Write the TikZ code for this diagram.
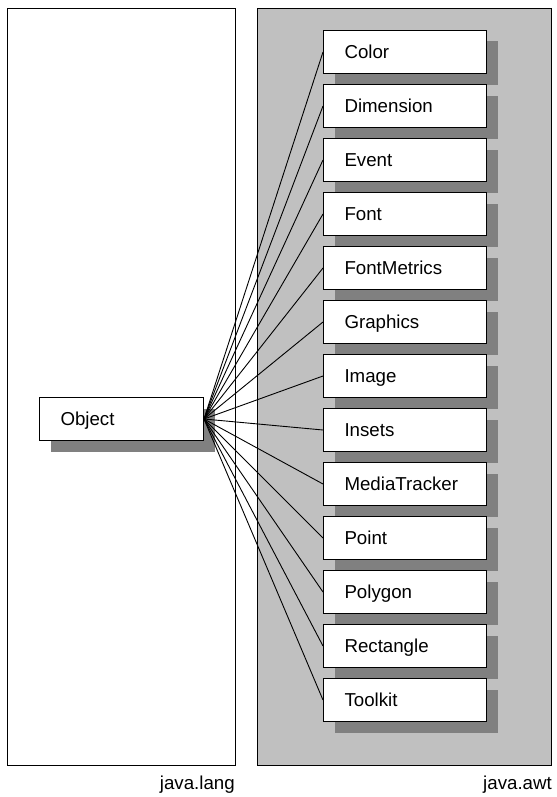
\documentclass[tikz,border=0pt]{standalone}
\usepackage{fontspec}
\setmainfont{Liberation Sans}
\usetikzlibrary{shadows}
\definecolor{panelgray}{RGB}{192,192,192}
\definecolor{shadowgray}{RGB}{128,128,128}
\pgfdeclarelayer{panels}
\pgfsetlayers{panels,main}
\newcommand{\labelfont}{\fontsize{18.7bp}{22bp}\selectfont}
\tikzset{
  classbox/.style={draw=black, line width=1bp, fill=white, rectangle,
    minimum width=163bp, minimum height=43bp, text width=121bp,
    inner xsep=21bp, inner ysep=0pt, align=left, anchor=north west,
    text height=13.4bp, text depth=0pt, font=\labelfont,
    drop shadow={shadow xshift=11bp, shadow yshift=-11bp,
      fill=shadowgray, opacity=1, draw=none}},
  wire/.style={draw=black, line width=0.9bp},
  panel/.style={draw=black, line width=1bp},
  pkglabel/.style={font=\labelfont, inner sep=0pt, anchor=base east},
}
\begin{document}
\begin{tikzpicture}[x=1bp, y=-1bp]
  \useasboundingbox (0,0) rectangle (557,797);

  % package panels
  \begin{pgfonlayer}{panels}
    \draw[panel, fill=white] (7,9) coordinate (langnw) rectangle (235,765) coordinate (langse);
    \draw[panel, fill=panelgray] (257,9) coordinate (awtnw) rectangle (551.5,765) coordinate (awtse);
  \end{pgfonlayer}

  % the base class
  \node[classbox, minimum width=164bp, text width=122bp] (obj) at (39,397) {Object};

  % classes of java.awt
  \foreach \name [count=\i from 0] in {Color,Dimension,Event,Font,FontMetrics,Graphics,Image,Insets,MediaTracker,Point,Polygon,Rectangle,Toolkit}
    \node[classbox] (c\i) at (323,{30+54*\i}) {\name};

  % inheritance connectors
  \foreach \i in {0,...,12}
    \draw[wire] (obj.east) -- (c\i.west);

  % package names
  \node[pkglabel] (langlabel) at (235,789) {java.lang};
  \node[pkglabel] (awtlabel) at (552,789) {java.awt};
\end{tikzpicture}
\end{document}
